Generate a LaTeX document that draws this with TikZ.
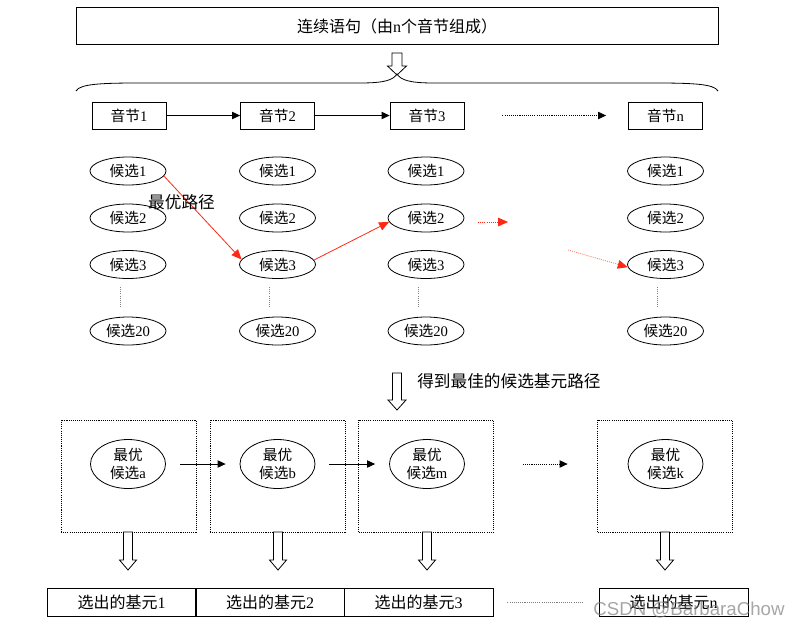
\documentclass[tikz,border=0pt]{standalone}
\usepackage{fontspec}
\setmainfont{Liberation Serif}
\setsansfont{Liberation Sans}
\newfontfamily\cjk{Noto Sans CJK SC}
\usetikzlibrary{arrows.meta,shapes.geometric}
\definecolor{pathred}{RGB}{255,40,20}
\newcommand\hollowarrow[6]{%
  \draw[line width=0.6pt,fill=white] (#1-#5,#2) -- (#1+#5,#2) -- (#1+#5,#3) -- (#1+#6,#3) -- (#1,#4) -- (#1-#6,#3) -- (#1-#5,#3) -- cycle;}
\begin{document}
\begin{tikzpicture}[x=0.75pt,y=-0.75pt,
  every node/.style={inner sep=0pt},
  topbox/.style={draw,line width=0.6pt,minimum width=481.5pt,minimum height=27.75pt,font=\fontsize{12}{14}\selectfont},
  syl/.style={draw,line width=0.6pt,minimum width=55.5pt,minimum height=20.25pt,font=\fontsize{11}{13}\selectfont},
  cand/.style={draw,ellipse,line width=0.6pt,minimum width=57pt,minimum height=21pt,font=\fontsize{11}{13}\selectfont},
  best/.style={draw,ellipse,line width=0.6pt,minimum width=56.25pt,minimum height=36.75pt,align=center,font=\fontsize{11}{14}\selectfont},
  dbox/.style={draw,line width=0.6pt,dash pattern=on 0.8pt off 0.8pt,minimum width=101.25pt,minimum height=84pt},
  outbox/.style={draw,line width=0.6pt,minimum width=111.75pt,minimum height=21pt,font=\fontsize{12}{14}\selectfont},
  conn/.style={line width=0.6pt,-{Triangle[length=6pt,width=5.5pt]}},
  dotconn/.style={conn,dash pattern=on 0.8pt off 0.8pt},
  redarr/.style={pathred,line width=0.6pt,-{Triangle[length=7.5pt,width=6.5pt]}},
  reddot/.style={redarr,dash pattern=on 0.8pt off 0.8pt},
  lightred/.style={draw=pathred!60,line width=0.6pt,dash pattern=on 0.8pt off 0.8pt,-{Triangle[length=7.5pt,width=6.5pt,color=pathred]}},
  vdots/.style={gray,line width=0.6pt,dash pattern=on 0.8pt off 0.8pt},
  label/.style={font=\fontsize{12.5}{15}\selectfont}
  ]
\useasboundingbox (0,0) rectangle (798,629);
% top
\node[topbox] (top) at (397,26) {{\cjk 连续语句（由}n{\cjk 个音节组成）}};
\hollowarrow{397}{53}{66}{75}{5}{9.5}
\draw[line width=0.6pt] (76,91) .. controls (80,84) and (100,83) .. (140,83) -- (360,83)
  .. controls (385,83) and (393,80) .. (397,74)
  .. controls (401,80) and (409,83) .. (434,83) -- (654,83)
  .. controls (694,83) and (714,84) .. (718,91);
% syllables
\node[syl] (s1) at (129,115.5) {{\cjk 音节}1};
\node[syl] (s2) at (277.5,115.5) {{\cjk 音节}2};
\node[syl] (s3) at (427,115.5) {{\cjk 音节}3};
\node[syl] (sn) at (665.5,115.5) {{\cjk 音节}n};
\draw[conn] (s1) -- (s2);
\draw[conn] (s2) -- (s3);
\draw[dotconn,shorten <=38*0.75pt,shorten >=22*0.75pt] (s3) -- (sn);
% candidates
\foreach \c/\x in {1/128,2/277.5,3/426,4/665.5}{
  \node[cand] (c\c1) at (\x,171) {{\cjk 候选}1};
  \node[cand] (c\c2) at (\x,218) {{\cjk 候选}2};
  \node[cand] (c\c3) at (\x,264.5) {{\cjk 候选}3};
  \node[cand] (c\c20) at (\x,331) {{\cjk 候选}20};
  \draw[vdots] (\x-8,287) -- (\x-8,307);
}
\draw[redarr] (c11.-8) -- (c23.172);
\draw[redarr] (c23.7) -- (c32.186);
\node[label] (opt) at (181.5,202) {\cjk 最优路径};
\coordinate (r1) at (478,222);
\coordinate (r2) at (508,222);
\draw[reddot] (r1) -- (r2);
\coordinate (r3) at (568,250);
\draw[lightred] (r3) -- (c43.184);
% middle arrow
\hollowarrow{397}{373}{400}{410}{4.5}{9}
\node[label,anchor=west] (get) at (417,381) {\cjk 得到最佳的候选基元路径};
% best boxes
\node[dbox] (d1) at (128.5,476) {};
\node[dbox] (d2) at (277.5,476) {};
\node[dbox] (d3) at (426,476) {};
\node[dbox] (d4) at (665,476) {};
\node[best] (e1) at (128,464) {{\cjk 最优}\\{\cjk 候选}a};
\node[best] (e2) at (277.5,464) {{\cjk 最优}\\{\cjk 候选}b};
\node[best] (e3) at (427,464) {{\cjk 最优}\\{\cjk 候选}m};
\node[best] (e4) at (665.5,464) {{\cjk 最优}\\{\cjk 候选}k};
\draw[conn,shorten <=14*0.75pt,shorten >=14*0.75pt] (e1) -- (e2);
\draw[conn,shorten <=14*0.75pt,shorten >=14*0.75pt] (e2) -- (e3);
\draw[dotconn,shorten <=58*0.75pt,shorten >=60*0.75pt] (e3) -- (e4);
% down arrows
\foreach \x in {128,278,427,665}{
  \hollowarrow{\x}{532}{560}{570}{4.5}{8.5}
}
% outputs
\node[outbox] (o1) at (121.5,602) {{\cjk 选出的基元}1};
\node[outbox] (o2) at (270,602) {{\cjk 选出的基元}2};
\node[outbox] (o3) at (418.5,602) {{\cjk 选出的基元}3};
\node[outbox] (on) at (673.5,602) {{\cjk 选出的基元}n};
\draw[gray,line width=0.6pt,dash pattern=on 0.8pt off 0.8pt,shorten <=14*0.75pt,shorten >=16*0.75pt] (o3) -- (on);
% watermark
\node[font=\sffamily\fontsize{14}{16}\selectfont,text=gray,opacity=0.7] (wm) at (689,610) {CSDN @BarbaraChow};
\end{tikzpicture}
\end{document}
